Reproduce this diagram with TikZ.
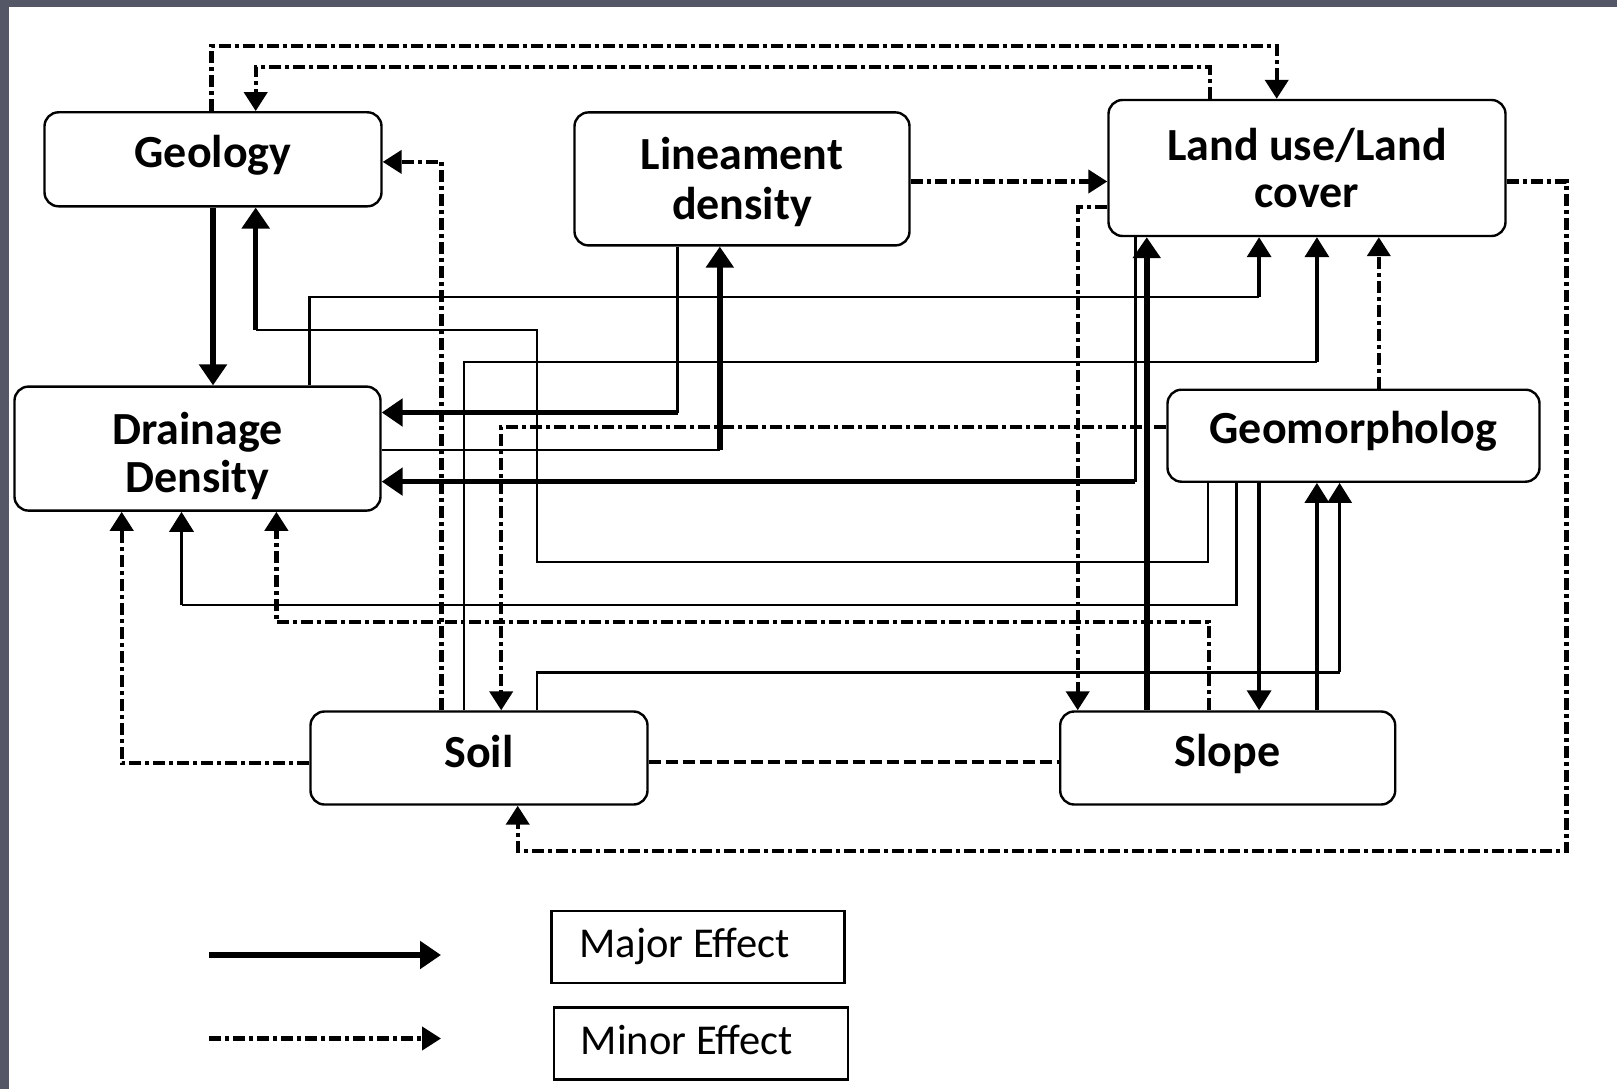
\documentclass[tikz,border=0pt]{standalone}
\usepackage{fontspec}
\setmainfont{Carlito}
\usetikzlibrary{arrows.meta}
\definecolor{strip}{HTML}{545766}
\newcommand\liftlbl[2]{\raisebox{#1}[\height][\depth]{#2}}
\newcommand\twolines[4]{\raisebox{#1}[\height][\depth]{\begin{tabular}{@{}c@{}}#2\\[#4]#3\end{tabular}}}
\tikzset{
  box/.style={draw, line width=2.4pt, rounded corners=14pt, align=center, inner sep=0pt,
    font=\bfseries\fontsize{46}{48}\selectfont},
  lbox/.style={draw, line width=2.4pt, inner sep=0pt, font=\fontsize{42.5}{48}\selectfont},
  link/.style={line width=2.2pt, line join=miter},
  medarrow/.style={line width=3.6pt, -{Triangle[length=20pt,width=24pt]}},
  majorarrow/.style={line width=5.5pt, line join=miter, -{Triangle[length=21pt,width=27pt]}},
  minorarrow/.style={line width=4.2pt, line join=miter, dash pattern=on 12pt off 4pt on 4pt off 4pt,
    -{Triangle[length=19pt,width=23pt]}},
  dashline/.style={line width=4pt, dash pattern=on 12pt off 5pt},
}
\begin{document}
\begin{tikzpicture}[x=1pt,y=-1pt]
\useasboundingbox (0,0) rectangle (1617,1089);
\fill[white] (0,0) rectangle (1617,1089);
\fill[strip] (0,0) rectangle (1617,7);
\fill[strip] (0,0) rectangle (9,1089);

% boxes
\node[box, minimum width=337pt, minimum height=94pt] (geo) at (213,159.3) {\liftlbl{4pt}{Geology}};
\node[box, minimum width=335pt, minimum height=133pt] (lin) at (742,178.9) {\twolines{-6pt}{Lineament}{density}{2pt}};
\node[box, minimum width=397pt, minimum height=136pt] (lulc) at (1307,168) {\twolines{-6.5pt}{Land use/Land}{cover}{-1pt}};
\node[box, minimum width=366pt, minimum height=124pt] (dd) at (197.5,448.6) {\twolines{-10pt}{Drainage}{Density}{0pt}};
\node[box, minimum width=372pt, minimum height=92pt] (geom) at (1353.5,435.7) {\liftlbl{4pt}{Geomorpholog}};
\node[box, minimum width=337pt, minimum height=93pt] (soil) at (479,758) {\liftlbl{6pt}{Soil}};
\node[box, minimum width=335pt, minimum height=93pt] (slope) at (1227.7,758) {\liftlbl{4pt}{Slope}};

% 1 Geology -> Drainage
\draw[majorarrow] (geo.south) -- (geo.south |- dd.north);

% 2 Geomorphology -> Geology
\coordinate (g2a) at (1207.6,562);
\coordinate (g2b) at (537.3,330);
\coordinate (g2c) at (255.7,330);
\draw[link] (geom.south -| g2a) -- (g2a) -- (g2b |- g2a) -- (g2b) -- (g2c);
\draw[majorarrow] (g2c) -- (g2c |- geo.south);

% 3 Lineament -> Drainage
\coordinate (l3) at (677.5,412.5);
\draw[link] (lin.south -| l3) -- (l3);
\draw[majorarrow] (l3) -- (l3 -| dd.east);

% 4 Drainage -> Lineament
\coordinate (d4) at (719.8,449.6);
\draw[link] (d4 -| dd.east) -- (d4);
\draw[majorarrow] (d4) -- (d4 |- lin.south);

% 5 Land use -> Drainage, Slope -> Land use
\coordinate (u5) at (1135.4,481.6);
\draw[link] (lulc.south -| u5) -- (u5);
\draw[majorarrow] (u5) -- (u5 -| dd.east);
\coordinate (s5) at (1146.75,0);
\draw[majorarrow] (slope.north -| s5) -- (lulc.south -| s5);

% 6 Drainage -> Land use
\coordinate (d6s) at (309.4,0);
\coordinate (d6) at (1259.1,297);
\draw[link] (dd.north -| d6s) |- (d6);
\draw[medarrow] (d6) -- (d6 |- lulc.south);

% 7 Soil -> Land use
\coordinate (s7s) at (464,0);
\coordinate (s7) at (1316.9,362);
\draw[link] (soil.north -| s7s) |- (s7);
\draw[medarrow] (s7) -- (s7 |- lulc.south);

% 8 Geomorphology -> Land use
\coordinate (g8) at (1378.8,0);
\draw[minorarrow] (geom.north -| g8) -- (lulc.south -| g8);

% 9 Geomorphology -> Drainage
\coordinate (g9) at (1236.5,605.3);
\coordinate (g9b) at (181.5,605.3);
\draw[link] (geom.south -| g9) -- (g9) -- (g9b);
\draw[medarrow] (g9b) -- (g9b |- dd.south);

% 10 Geomorphology -> Slope, 11 Slope -> Geomorphology
\coordinate (g10) at (1259.1,0);
\draw[medarrow] (geom.south -| g10) -- (slope.north -| g10);
\coordinate (s11) at (1316.9,0);
\draw[medarrow] (slope.north -| s11) -- (geom.south -| s11);

% 12 Soil -> Geomorphology
\coordinate (s12) at (537.3,672.4);
\coordinate (s12b) at (1339.6,672.4);
\draw[link] (soil.north -| s12) -- (s12) -- (s12b);
\draw[medarrow] (s12b) -- (s12b |- geom.south);

% 13 Geomorphology -> Soil
\coordinate (g13) at (501.2,427);
\draw[minorarrow] (geom.west |- g13) -- (g13) -- (g13 |- soil.north);

% 14 Slope -> Drainage
\coordinate (s14) at (1208.6,621.8);
\coordinate (s14b) at (276.4,621.8);
\draw[minorarrow] (slope.north -| s14) -- (s14) -- (s14b) -- (s14b |- dd.south);

% 15 Soil -> Drainage
\coordinate (s15) at (121.7,763.1);
\draw[minorarrow] (soil.west |- s15) -- (s15) -- (s15 |- dd.south);

% 16 Soil -> Geology
\coordinate (s16) at (441.4,161.9);
\draw[minorarrow] (soil.north -| s16) -- (s16) -- (s16 -| geo.east);

% 17 Geology -> Land use
\coordinate (a17) at (211.4,46.4);
\coordinate (b17) at (1276.7,46.4);
\draw[minorarrow] (geo.north -| a17) -- (a17) -- (b17) -- (b17 |- lulc.north);

% 18 Land use -> Geology
\coordinate (a18) at (1209.6,67);
\coordinate (b18) at (255.7,67);
\draw[minorarrow] (lulc.north -| a18) -- (a18) -- (b18) -- (b18 |- geo.north);

% 19 Lineament -> Land use
\coordinate (a19) at (0,181.5);
\draw[minorarrow] (lin.east |- a19) -- (lulc.west |- a19);

% 20 Land use -> Slope
\coordinate (a20) at (1077.7,207.3);
\draw[minorarrow] (lulc.west |- a20) -- (a20) -- (a20 |- slope.north);

% 21 Land use -> Soil
\coordinate (a21) at (1566.5,181.5);
\coordinate (b21) at (1566.5,850.8);
\coordinate (c21) at (517.7,850.8);
\draw[minorarrow] (lulc.east |- a21) -- (a21) -- (b21) -- (c21) -- (c21 |- soil.south);

% 22 Soil -- Slope
\coordinate (a22) at (0,762);
\draw[dashline] (soil.east |- a22) -- (slope.west |- a22);

% legend
\coordinate (m1) at (209,955);
\coordinate (m2) at (441,955);
\draw[majorarrow] (m1) -- (m2);
\coordinate (n1) at (209,1038.5);
\coordinate (n2) at (441,1038.5);
\draw[minorarrow] (n1) -- (n2);
\node[lbox, minimum width=293pt, minimum height=72pt] (maj) at (698,946.7) {\hspace*{-27pt}Major Effect};
\node[lbox, minimum width=294pt, minimum height=72pt] (mnr) at (700.7,1043.6) {\hspace*{-28pt}\liftlbl{4pt}{Minor Effect}};
\end{tikzpicture}
\end{document}
